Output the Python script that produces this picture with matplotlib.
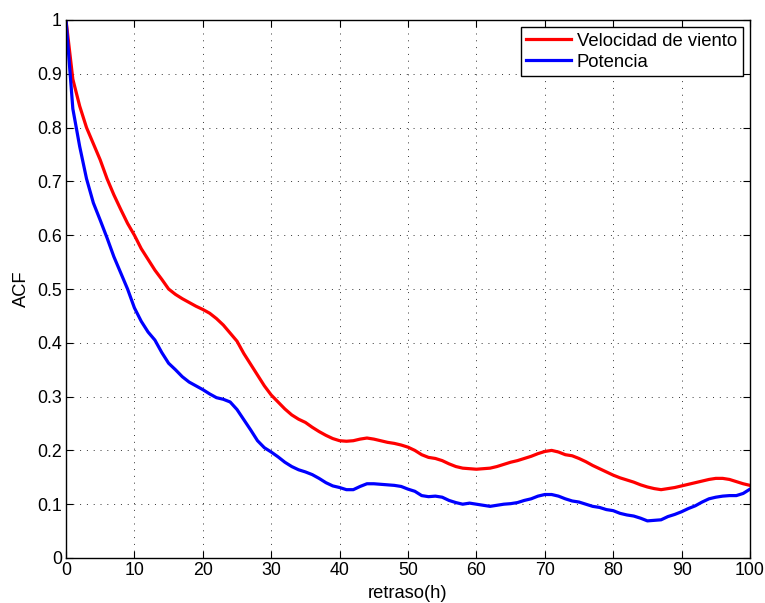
import matplotlib
matplotlib.use("Agg")
import matplotlib.pyplot as plt
import numpy as np

plt.rcParams['font.family'] = ['Liberation Sans', 'DejaVu Sans']

lags = list(range(0, 101))
velocidad = [1.0, 0.89, 0.84, 0.80, 0.77, 0.74, 0.705, 0.675, 0.648, 0.622,
             0.60, 0.575, 0.555, 0.535, 0.518, 0.50, 0.49, 0.482, 0.475, 0.468,
             0.462, 0.455, 0.445, 0.433, 0.418, 0.403, 0.38, 0.36, 0.34, 0.32,
             0.303, 0.29, 0.277, 0.266, 0.258, 0.252, 0.243, 0.235, 0.228, 0.222,
             0.218, 0.217, 0.218, 0.221, 0.223, 0.221, 0.218, 0.215, 0.213, 0.21,
             0.206, 0.2, 0.192, 0.187, 0.185, 0.181, 0.175, 0.17, 0.167, 0.166,
             0.165, 0.166, 0.167, 0.17, 0.174, 0.178, 0.181, 0.185, 0.189, 0.194,
             0.198, 0.2, 0.197, 0.192, 0.19, 0.185, 0.179, 0.172, 0.166, 0.16,
             0.154, 0.149, 0.145, 0.141, 0.136, 0.132, 0.129, 0.127, 0.129, 0.131,
             0.134, 0.137, 0.14, 0.143, 0.146, 0.148, 0.148, 0.146, 0.142, 0.138,
             0.135]
potencia = [1.0, 0.835, 0.765, 0.705, 0.66, 0.628, 0.595, 0.56, 0.53, 0.50,
            0.465, 0.44, 0.42, 0.405, 0.382, 0.362, 0.35, 0.337, 0.327, 0.32,
            0.313, 0.305, 0.298, 0.295, 0.29, 0.276, 0.257, 0.238, 0.218, 0.205,
            0.197, 0.188, 0.178, 0.17, 0.164, 0.16, 0.155, 0.148, 0.14, 0.134,
            0.131, 0.127, 0.127, 0.133, 0.138, 0.138, 0.137, 0.136, 0.135, 0.133,
            0.128, 0.124, 0.116, 0.114, 0.115, 0.113, 0.107, 0.103, 0.1, 0.102,
            0.1, 0.098, 0.096, 0.098, 0.1, 0.101, 0.103, 0.107, 0.11, 0.115,
            0.118, 0.118, 0.115, 0.11, 0.106, 0.104, 0.1, 0.096, 0.094, 0.09,
            0.088, 0.083, 0.08, 0.078, 0.074, 0.069, 0.07, 0.071, 0.077, 0.081,
            0.086, 0.092, 0.097, 0.104, 0.11, 0.113, 0.115, 0.116, 0.116, 0.12,
            0.128]
xticks = list(range(0, 101, 10))
yticks = [0, 0.1, 0.2, 0.3, 0.4, 0.5, 0.6, 0.7, 0.8, 0.9, 1]
ytick_labels = ["0", "0.1", "0.2", "0.3", "0.4", "0.5", "0.6", "0.7", "0.8", "0.9", "1"]

fig = plt.figure(figsize=(7.65, 6.03), dpi=100)
ax = fig.add_axes([66/765, 45/603, (750-66)/765, (558-20)/603])
ax.plot(lags, velocidad, color='#ff0000', lw=2.3, label='Velocidad de viento')
ax.plot(lags, potencia, color='#0000ff', lw=2.3, label='Potencia')
ax.set_xlim(0, 100)
ax.set_ylim(0, 1)
ax.set_xticks(xticks)
ax.set_xticklabels([str(t) for t in xticks])
ax.set_yticks(yticks)
ax.set_yticklabels(ytick_labels)
ax.grid(True, linestyle=(0, (1, 6)), color='#333333', linewidth=0.7)
ax.tick_params(direction='in', top=True, right=True, labelsize=12.8, length=5, width=0.8, pad=3)
for s in ax.spines.values():
    s.set_linewidth(1.0)
ax.set_xlabel('retraso(h)', fontsize=13.2, labelpad=4)
ax.set_ylabel('ACF', fontsize=13.2, labelpad=5)
leg = ax.legend(loc='upper right', fontsize=13.3, fancybox=False, framealpha=1,
                edgecolor='black', handlelength=2.45, borderaxespad=0.4,
                borderpad=0.3, labelspacing=0.2, handletextpad=0.3)
leg.get_frame().set_linewidth(1.0)
fig.savefig('out.png', dpi=100)
